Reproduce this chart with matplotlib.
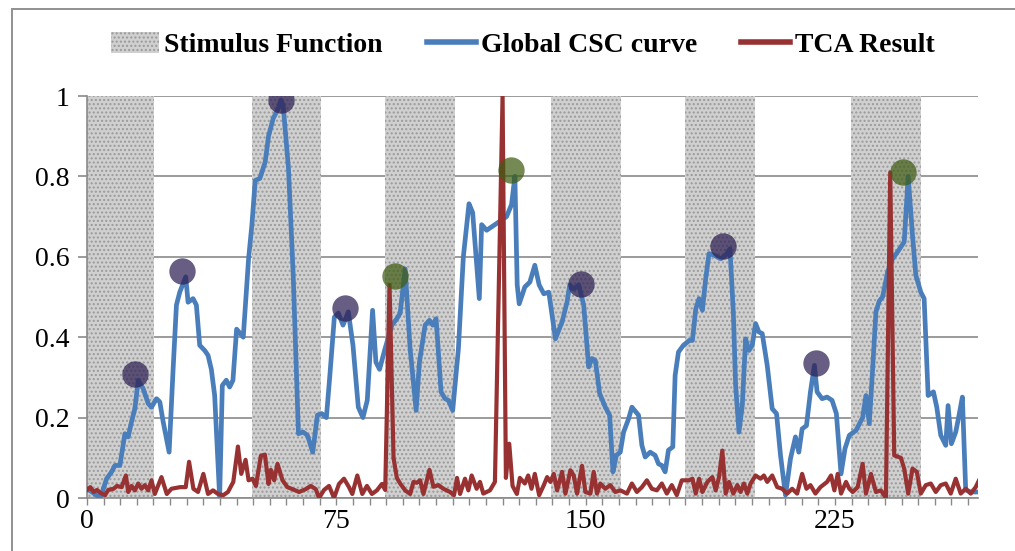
import matplotlib
matplotlib.use("Agg")
import matplotlib.pyplot as plt
import numpy as np
from matplotlib.lines import Line2D
from matplotlib.patches import Patch, Rectangle

# stimulus blocks (start / end on the sample axis)
stim_on = [0, 49.6, 89.5, 139.6, 179.8, 229.8]
stim_off = [20.3, 70.4, 110.6, 160.6, 200.8, 250.8]

# global CSC curve
csc_x = [0, 1.5, 4, 5.9, 7.4, 8.4, 9.9, 11.4, 12.4, 13.4, 14.4, 15.4, 16.9, 18.4, 19.4,
         20.9, 21.9, 22.9, 24.7, 25.9, 26.9, 27.9, 29.7, 30.4, 31.9, 32.9, 33.9, 35.4,
         36.4, 37.4, 38.4, 39.9, 40.7, 41.9, 42.9, 43.9, 45, 47, 48.6, 49.6, 50.6, 52,
         53.6, 54.6, 56, 57.6, 58.3, 59, 60.6, 62, 63.6, 65, 66.3, 67.9, 69.3, 70.6, 72,
         73, 74.4, 75.6, 77, 78.6, 80, 81.6, 83, 84.3, 85.9, 86.9, 88, 89.6, 91.7, 93.2,
         94.2, 95.7, 97.2, 99, 100, 101.7, 103, 104, 105, 106.5, 107.7, 108.7, 110, 111.7,
         113.2, 114.9, 116, 118, 118.7, 120.2, 122.7, 126.2, 127.7, 128.7, 129.4, 130,
         131.7, 133.2, 134.7, 136, 137.4, 138.9, 140.9, 142.9, 144.4, 145.2, 146.4, 147.9,
         149.4, 150.9, 151.9, 152.9, 154.2, 155.9, 157.2, 158.2, 159.2, 160.4, 161.4,
         162.9, 163.9, 165.9, 166.9, 167.9, 169.4, 170.9, 171.9, 172.9, 173.9, 174.9,
         176.2, 176.9, 177.9, 179.4, 181.2, 182.1, 183.1, 184.1, 185.1, 186.1, 187.1,
         188.6, 190.6, 192.1, 193.4, 194.4, 195.1, 196.1, 197.1, 198.1, 199.1, 200.1,
         201.1, 202.1, 203.1, 204.6, 206.1, 207.4, 208.6, 210.1, 211.6, 213.1, 214.1,
         215.1, 216.4, 217.6, 218.8, 219.6, 221.1, 222.6, 224.1, 225.4, 226.8, 228, 229.3,
         231.3, 233.3, 234.3, 235.3, 236.3, 237.3, 238.3, 239.3, 240.8, 242.3, 243.8,
         245.8, 247, 248.3, 249.3, 250.8, 251.8, 253, 254.6, 255.6, 256.8, 258.3, 259, 260,
         261.3, 262.3, 263.3, 264.3, 265.8, 267.8]
csc_y = [0.023, 0.015, 0.0, 0.048, 0.065, 0.081, 0.081, 0.16, 0.152, 0.19, 0.222, 0.293,
         0.272, 0.235, 0.226, 0.247, 0.239, 0.19, 0.114, 0.32, 0.48, 0.512, 0.55, 0.487,
         0.496, 0.48, 0.38, 0.367, 0.355, 0.32, 0.255, 0.002, 0.28, 0.293, 0.276, 0.293,
         0.42, 0.40, 0.595, 0.68, 0.79, 0.795, 0.836, 0.90, 0.944, 0.97, 0.99, 0.977, 0.82,
         0.56, 0.16, 0.164, 0.156, 0.114, 0.206, 0.21, 0.2, 0.30, 0.45, 0.46, 0.43, 0.463,
         0.38, 0.226, 0.2, 0.243, 0.467, 0.338, 0.32, 0.37, 0.43, 0.446, 0.46, 0.57, 0.37,
         0.218, 0.338, 0.43, 0.442, 0.43, 0.446, 0.264, 0.247, 0.243, 0.218, 0.37, 0.60,
         0.732, 0.71, 0.496, 0.68, 0.666, 0.68, 0.70, 0.73, 0.80, 0.53, 0.483, 0.525, 0.537,
         0.579, 0.53, 0.508, 0.512, 0.396, 0.438, 0.488, 0.53, 0.52, 0.53, 0.48, 0.326,
         0.347, 0.342, 0.26, 0.226, 0.206, 0.065, 0.106, 0.114, 0.164, 0.197, 0.226, 0.206,
         0.131, 0.102, 0.114, 0.106, 0.085, 0.081, 0.065, 0.119, 0.127, 0.305, 0.363, 0.38,
         0.392, 0.392, 0.47, 0.496, 0.467, 0.546, 0.608, 0.604, 0.595, 0.604, 0.62, 0.463,
         0.28, 0.164, 0.23, 0.396, 0.367, 0.38, 0.434, 0.413, 0.409, 0.33, 0.222, 0.21,
         0.106, 0.007, 0.098, 0.152, 0.114, 0.172, 0.18, 0.264, 0.33, 0.264, 0.247, 0.251,
         0.243, 0.21, 0.06, 0.123, 0.156, 0.168, 0.2, 0.255, 0.185, 0.32, 0.463, 0.49, 0.5,
         0.562, 0.595, 0.612, 0.637, 0.8, 0.653, 0.554, 0.512, 0.496, 0.255, 0.264, 0.226,
         0.156, 0.131, 0.23, 0.135, 0.164, 0.206, 0.251, 0.02, 0.015, 0.015]

# TCA result
tca_x = [0, 1, 2, 3, 4, 5.4, 6.4, 8, 9, 10.4, 11.7, 12.4, 13.4, 14.4, 15.4, 16.4, 17.4,
         18.4, 19.4, 20.4, 22.4, 24, 25.4, 28, 29.7, 30.7, 32, 33.4, 35, 36.4, 37.9, 39.4,
         41, 42.4, 44, 45.4, 46.4, 47.7, 48.6, 49.8, 50.8, 52.3, 53.5, 54.6, 55.3, 56.3,
         57.3, 58.8, 60.3, 61.8, 63.8, 65.8, 67.3, 68.8, 69.8, 71.3, 72.8, 74.3, 75.8, 77.3,
         78.8, 79.8, 81.3, 82.8, 84.2, 85.7, 87.2, 88.7, 89.7, 91, 92.2, 93.2, 94.2, 95.7,
         97.2, 98.2, 99.2, 100.2, 101.2, 103, 104.2, 105.7, 107.2, 109.2, 110.4, 111.3,
         112.2, 113.7, 114.7, 115.7, 117.2, 118.2, 119.2, 121.2, 122.7, 125, 126, 127, 128,
         129.3, 130.2, 131.7, 132.7, 133.7, 134.7, 136, 137.4, 138.4, 139.4, 140.4, 141.4,
         142.9, 143.9, 145.4, 146.4, 147.4, 148.9, 149.9, 151.4, 152.4, 153.4, 154.4,
         155.9, 157.4, 158.9, 160.4, 162.4, 163.9, 165.4, 166.9, 168.4, 169.9, 171.4,
         172.9, 174.4, 175.9, 177.4, 178.9, 180.4, 181.1, 182.1, 183.1, 184.1, 185.1,
         186.6, 188.1, 189.1, 190.1, 191.1, 192.1, 193.1, 194.4, 195.6, 196.6, 197.6,
         198.6, 199.6, 201.1, 202.6, 203.6, 204.6, 206.1, 207.6, 209.1, 210.6, 212.1,
         213.6, 215.1, 216.4, 217.6, 219.1, 220.6, 222.6, 223.8, 224.8, 225.8, 226.8,
         228.3, 229.3, 230.3, 231.8, 233.3, 234.3, 235.8, 237.3, 238.8, 240.3, 241.6,
         242.8, 244.8, 245.8, 247, 248.3, 249.6, 250.8, 252.3, 253.8, 255.3, 256.8, 258.3,
         259.8, 261.3, 262.8, 264.3, 265.8, 267.3, 268.3]
tca_y = [0.02, 0.027, 0.015, 0.02, 0.013, 0.007, 0.02, 0.023, 0.03, 0.027, 0.056, 0.015,
         0.03, 0.019, 0.036, 0.023, 0.032, 0.019, 0.044, 0.01, 0.052, 0.01, 0.023, 0.027,
         0.027, 0.09, 0.023, 0.015, 0.06, 0.01, 0.019, 0.01, 0.007, 0.015, 0.04, 0.128,
         0.06, 0.095, 0.044, 0.048, 0.03, 0.105, 0.108, 0.035, 0.07, 0.044, 0.085, 0.044,
         0.027, 0.022, 0.015, 0.022, 0.03, 0.022, 0.0, 0.02, 0.03, 0.0, 0.035, 0.048, 0.027,
         0.01, 0.056, 0.01, 0.03, 0.01, 0.019, 0.035, 0.02, 0.53, 0.1, 0.05, 0.036, 0.019,
         0.01, 0.04, 0.038, 0.044, 0.01, 0.07, 0.028, 0.032, 0.023, 0.015, 0.007, 0.05,
         0.01, 0.048, 0.019, 0.056, 0.023, 0.04, 0.011, 0.019, 0.04, 1.0, 0.05, 0.135,
         0.03, 0.01, 0.05, 0.036, 0.056, 0.023, 0.06, 0.007, 0.032, 0.052, 0.04, 0.06,
         0.019, 0.065, 0.011, 0.069, 0.056, 0.011, 0.08, 0.015, 0.011, 0.065, 0.011, 0.036,
         0.023, 0.032, 0.015, 0.019, 0.011, 0.036, 0.015, 0.027, 0.044, 0.023, 0.019,
         0.036, 0.011, 0.032, 0.007, 0.044, 0.044, 0.044, 0.048, 0.011, 0.048, 0.015,
         0.04, 0.052, 0.019, 0.052, 0.118, 0.011, 0.04, 0.011, 0.032, 0.015, 0.036, 0.011,
         0.036, 0.056, 0.048, 0.056, 0.04, 0.056, 0.027, 0.023, 0.011, 0.023, 0.011, 0.06,
         0.023, 0.032, 0.011, 0.027, 0.04, 0.056, 0.019, 0.06, 0.011, 0.04, 0.023, 0.015,
         0.027, 0.085, 0.011, 0.06, 0.015, 0.019, 0.0, 0.81, 0.106, 0.1, 0.073, 0.011,
         0.073, 0.065, 0.011, 0.032, 0.036, 0.015, 0.032, 0.036, 0.011, 0.048, 0.011,
         0.023, 0.011, 0.027, 0.044]

# detected peaks
purple_x = [14.5, 28.5, 58.3, 77.6, 148.7, 191.4, 219.4]
purple_y = [0.308, 0.565, 0.99, 0.473, 0.533, 0.628, 0.337]
green_x = [92.7, 127.5, 245.3]
green_y = [0.552, 0.817, 0.81]

x_labels = {0: "0", 75: "75", 150: "150", 225: "225"}

BLUE = "#4a7ebb"
RED = "#983232"
GRID = "#8a8a8a"
STIM_FACE = "#d0d0d0"
STIM_DOTS = "#9a9a9a"

plt.rcParams["font.family"] = ["Liberation Serif", "DejaVu Serif"]
plt.rcParams["hatch.linewidth"] = 1.0

fig = plt.figure(figsize=(10.15, 5.51), dpi=100)
ax = fig.add_axes([87 / 1015, 1 - 498 / 551, (978 - 87) / 1015, (498 - 96) / 551])

widths = np.array(stim_off) - np.array(stim_on)
ax.bar(stim_on, 1, width=widths, align="edge", color=STIM_FACE,
       edgecolor=STIM_DOTS, hatch="....", linewidth=0, zorder=1)

ax.plot(csc_x, csc_y, color=BLUE, lw=3.4, solid_joinstyle="round", zorder=3)
ax.plot(tca_x, tca_y, color=RED, lw=3.0, solid_joinstyle="round", zorder=4)

ax.scatter(purple_x, purple_y, s=360, color="#2e1f52", alpha=0.72, lw=0, zorder=5)
ax.scatter(green_x, green_y, s=360, color="#3f5c12", alpha=0.72, lw=0, zorder=5)

ax.set_xlim(0, 268)
ax.set_ylim(0, 1)
ax.set_yticks([0, 0.2, 0.4, 0.6, 0.8, 1])
ax.set_yticklabels(["0", "0.2", "0.4", "0.6", "0.8", "1"])
ticks = np.arange(0, 266, 5)
ax.set_xticks(ticks)
ax.set_xticklabels([x_labels.get(int(t), "") for t in ticks])
ax.grid(axis="y", color=GRID, lw=1.2, zorder=0)
ax.set_axisbelow(True)

for side in ["top", "right"]:
    ax.spines[side].set_visible(False)
for side in ["left", "bottom"]:
    ax.spines[side].set_color(GRID)
    ax.spines[side].set_linewidth(1.2)

ax.tick_params(axis="y", length=6.5, width=1.2, color=GRID, labelsize=20, pad=6)
ax.tick_params(axis="x", length=5, width=1, color=GRID, labelsize=20, pad=3)

# outer chart frame
fig.patches.append(Rectangle((12 / 1015, -0.1), 1.2, 1.1 - 9 / 551,
                             transform=fig.transFigure, fill=False,
                             ec="#909090", lw=1.4))

handles = [
    Patch(facecolor=STIM_FACE, edgecolor=STIM_DOTS, hatch="....", linewidth=0),
    Line2D([], [], color=BLUE, lw=4),
    Line2D([], [], color=RED, lw=4),
]
fig.legend(handles, ["Stimulus Function", "Global CSC curve", "TCA Result"],
           loc="center", bbox_to_anchor=(0.515, 0.918), ncol=3, frameon=False,
           prop={"weight": "bold", "size": 20}, handlelength=1.75,
           handleheight=0.75, handletextpad=0.18, columnspacing=1.6)

fig.savefig("out.png", dpi=100)
